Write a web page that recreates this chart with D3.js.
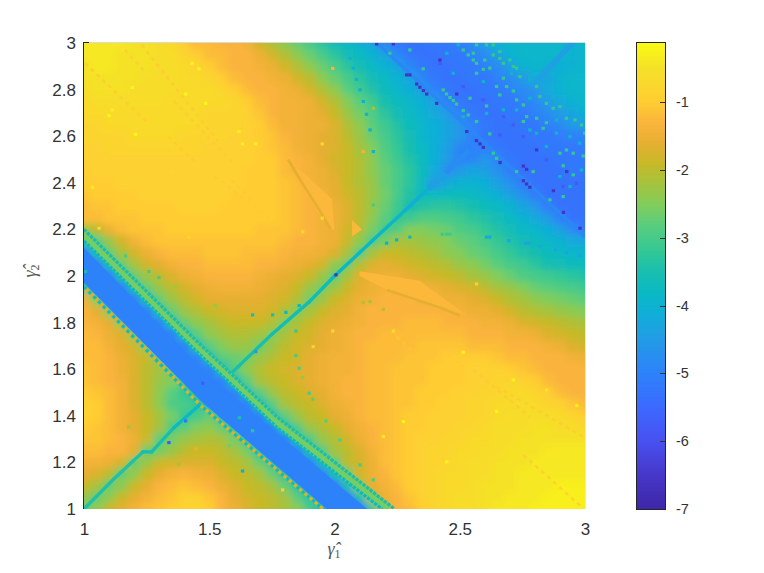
<!DOCTYPE html>
<html><head><meta charset="utf-8">
<script src="https://cdn.jsdelivr.net/npm/d3@7"></script>
<style>html,body{margin:0;padding:0;background:#fff}svg{display:block}text{font-family:"Liberation Sans",Arial,sans-serif}</style>
</head><body><div id="c"></div>
<script>
// Log-scale surface. Rows run from y=3.00 down to y=1.00, columns from x=1.00 to x=3.00.
const xTicks=[1,1.5,2,2.5,3];
const yTicks=[1,1.2,1.4,1.6,1.8,2,2.2,2.4,2.6,2.8,3];
const barTicks=[-7,-6,-5,-4,-3,-2,-1];
const zMin=-7, zMax=-0.13;
const stopValues=[-7,-6.5,-6,-5.5,-5,-4.5,-4.1,-3.8,-3.5,-3.2,-2.8,-2.5,-2.2,-1.9,-1.6,-1.3,-1,-0.5,-0.13];
const stopColors=["#3e26a8","#4637c8","#4850f0","#3c69ff","#2d82fa","#239be6","#0fafd7","#0ab9c3","#19beaf","#32c896","#5acd7d","#82cd5a","#a5c33c","#c8b928","#e6af32","#fab43c","#ffcd32","#f5e128","#fafa14"];
const zRows=[
[-.4,-.4,-.4,-.4,-.5,-.5,-.6,-.7,-1,-1.2,-1.2,-1.3,-1.3,-1.4,-1.8,-2.1,-2.4,-2.7,-3,-3.3,-3.6,-3.8,-4,-4.3,-4.9,-5.2,-5.3,-5.3,-5.2,-5.2,-5,-4.8,-4.4,-4,-3.9,-3.9,-3.9,-3.9,-3.9,-4,-3.9],
[-.4,-.4,-.4,-.5,-.5,-.5,-.6,-.6,-.8,-1,-1.2,-1.2,-1.3,-1.3,-1.5,-1.8,-2.1,-2.4,-2.7,-3,-3.3,-3.6,-3.8,-4,-4.3,-4.9,-5.2,-5.3,-5.3,-5.2,-5.2,-5,-4.8,-4.4,-4,-3.9,-3.9,-3.9,-3.9,-4,-3.9],
[-.5,-.4,-.4,-.5,-.5,-.5,-.6,-.6,-.7,-.8,-1,-1.2,-1.3,-1.3,-1.4,-1.5,-1.8,-2.1,-2.4,-2.7,-3,-3.3,-3.6,-3.8,-4,-4.3,-4.9,-5.2,-5.3,-5.3,-5.2,-5.2,-5,-4.8,-4.4,-4,-3.9,-4,-4.1,-4,-3.9],
[-.5,-.5,-.5,-.5,-.5,-.6,-.6,-.6,-.7,-.7,-.8,-1,-1.2,-1.3,-1.3,-1.4,-1.5,-1.8,-2,-2.4,-2.7,-3,-3.3,-3.6,-3.8,-4,-4.3,-4.9,-5.2,-5.3,-5.3,-5.2,-5.2,-5,-4.8,-4.5,-4.2,-4.3,-4,-3.9,-3.9],
[-.6,-.5,-.5,-.5,-.6,-.6,-.6,-.6,-.7,-.7,-.7,-.8,-1,-1.2,-1.3,-1.3,-1.4,-1.5,-1.8,-2.1,-2.4,-2.8,-3.1,-3.4,-3.7,-3.9,-4.1,-4.4,-5,-5.2,-5.3,-5.3,-5.2,-5.2,-5,-4.8,-4.6,-4.2,-4,-3.9,-3.9],
[-.7,-.6,-.6,-.6,-.6,-.6,-.6,-.7,-.7,-.7,-.7,-.7,-.8,-1,-1.2,-1.3,-1.4,-1.4,-1.5,-1.8,-2.1,-2.5,-2.8,-3.1,-3.5,-3.7,-3.9,-4.1,-4.4,-5,-5.2,-5.3,-5.3,-5.2,-5.2,-5,-4.8,-4.5,-4.2,-4,-3.9],
[-.7,-.7,-.7,-.7,-.7,-.7,-.7,-.7,-.7,-.7,-.8,-.8,-.8,-.9,-1.1,-1.3,-1.4,-1.4,-1.5,-1.6,-1.9,-2.3,-2.6,-2.9,-3.3,-3.6,-3.8,-4,-4.2,-4.5,-5,-5.2,-5.3,-5.3,-5.2,-5.2,-5,-4.8,-4.5,-4.3,-4.1],
[-.8,-.8,-.7,-.7,-.7,-.7,-.7,-.7,-.7,-.7,-.8,-.8,-.8,-.9,-1,-1.2,-1.4,-1.4,-1.5,-1.5,-1.7,-2.1,-2.4,-2.8,-3.1,-3.4,-3.7,-3.9,-4.1,-4.3,-4.6,-5,-5.2,-5.3,-5.3,-5.2,-5.2,-5,-4.8,-4.5,-4.5],
[-.8,-.8,-.8,-.8,-.7,-.7,-.7,-.7,-.8,-.8,-.8,-.8,-.9,-.9,-1,-1.1,-1.3,-1.4,-1.5,-1.6,-1.7,-2,-2.3,-2.7,-3,-3.3,-3.6,-3.9,-4.1,-4.3,-4.6,-5,-5.2,-5.3,-5.3,-5.3,-5.2,-5.2,-5.1,-5,-4.9],
[-.9,-.9,-.8,-.8,-.8,-.8,-.8,-.8,-.8,-.8,-.9,-.9,-.9,-.9,-1,-1.1,-1.2,-1.4,-1.5,-1.6,-1.7,-1.9,-2.2,-2.5,-2.9,-3.2,-3.5,-3.8,-4.1,-4.4,-4.9,-5,-5,-5.2,-5.3,-5.3,-5.3,-5.2,-5.2,-5.2,-5.1],
[-.9,-.9,-.9,-.9,-.9,-.9,-.9,-.9,-.9,-.9,-.9,-.9,-.9,-.9,-1,-1,-1.2,-1.3,-1.4,-1.6,-1.8,-1.9,-2.1,-2.4,-2.8,-3.1,-3.4,-3.7,-4.1,-4.5,-5,-4.9,-4.6,-4.9,-5.2,-5.3,-5.3,-5.3,-5.2,-5.2,-5.2],
[-1,-.9,-.9,-.9,-.9,-.9,-.9,-.9,-.9,-.9,-.9,-.9,-.9,-1,-1,-1,-1.2,-1.3,-1.4,-1.5,-1.7,-1.9,-2.1,-2.4,-2.7,-3,-3.3,-3.7,-4.2,-4.7,-4.5,-4.3,-4.4,-4.7,-5.1,-5.3,-5.3,-5.3,-5.3,-5.2,-5.2],
[-1,-1,-1,-.9,-.9,-.9,-.9,-.9,-.9,-.9,-.9,-.9,-.9,-1,-1,-1,-1.1,-1.2,-1.4,-1.5,-1.6,-1.9,-2.1,-2.3,-2.7,-3,-3.3,-3.8,-4.5,-4.2,-4,-4,-4.1,-4.4,-4.7,-5.1,-5.3,-5.3,-5.3,-5.3,-5.3],
[-1.1,-1,-1,-1,-1,-.9,-.9,-.9,-.9,-.9,-.9,-.9,-1,-1,-1,-1,-1.1,-1.2,-1.3,-1.4,-1.6,-1.8,-2,-2.3,-2.6,-3,-3.4,-3.7,-3.8,-3.7,-3.7,-3.8,-3.9,-4.1,-4.4,-4.7,-5.1,-5.3,-5.3,-5.3,-5.3],
[-1.2,-1.1,-1.1,-1,-1,-1,-1,-1,-.9,-.9,-.9,-1,-1,-1,-1,-1,-1.1,-1.2,-1.3,-1.4,-1.5,-1.7,-2,-2.3,-2.7,-3.1,-3.5,-3.4,-3.3,-3.3,-3.4,-3.5,-3.7,-3.8,-4,-4.3,-4.6,-5.1,-5.3,-5.3,-5.3],
[-1.2,-1.2,-1.1,-1.1,-1.1,-1,-1,-1,-1,-1,-1,-1,-1,-1,-1,-1,-1.1,-1.2,-1.3,-1.4,-1.5,-1.7,-2,-2.4,-2.8,-3.2,-3.1,-2.9,-2.9,-3,-3.1,-3.3,-3.4,-3.6,-3.8,-4,-4.2,-4.5,-5,-5.3,-5.3],
[-2.3,-2,-1.5,-1.2,-1.1,-1.1,-1.1,-1,-1,-1,-1,-1,-1,-1,-1.1,-1.1,-1.1,-1.2,-1.3,-1.4,-1.5,-1.8,-2.1,-2.6,-3,-2.9,-2.5,-2.5,-2.6,-2.7,-2.9,-3,-3.2,-3.4,-3.6,-3.8,-3.9,-4.1,-4.4,-4.8,-5.2],
[-3.2,-2.8,-2.3,-1.8,-1.4,-1.2,-1.1,-1.1,-1.1,-1.1,-1.1,-1.1,-1.1,-1.1,-1.1,-1.1,-1.2,-1.3,-1.3,-1.4,-1.5,-1.9,-2.4,-2.9,-2.6,-2.2,-2.2,-2.3,-2.4,-2.5,-2.7,-2.8,-3,-3.2,-3.4,-3.6,-3.7,-3.9,-4,-4.2,-4.3],
[-5,-3.6,-2.7,-2.2,-1.8,-1.5,-1.3,-1.2,-1.2,-1.2,-1.1,-1.1,-1.1,-1.2,-1.2,-1.2,-1.3,-1.4,-1.4,-1.5,-1.7,-2.2,-2.8,-2.2,-1.9,-1.9,-2,-2.1,-2.2,-2.4,-2.5,-2.7,-2.8,-3,-3.2,-3.4,-3.5,-3.7,-3.8,-3.9,-3.9],
[-5,-5,-3.6,-2.7,-2.2,-1.8,-1.6,-1.4,-1.3,-1.3,-1.2,-1.2,-1.2,-1.2,-1.3,-1.3,-1.4,-1.5,-1.6,-1.8,-2.4,-2.7,-2.1,-1.7,-1.6,-1.7,-1.8,-1.9,-2,-2.1,-2.3,-2.4,-2.6,-2.8,-3,-3.1,-3.3,-3.5,-3.6,-3.7,-3.7],
[-5,-5,-5,-3.6,-2.7,-2.3,-2,-1.7,-1.5,-1.4,-1.3,-1.3,-1.3,-1.3,-1.4,-1.5,-1.6,-1.7,-1.9,-2.3,-2.7,-2.2,-1.7,-1.5,-1.5,-1.5,-1.6,-1.7,-1.8,-1.9,-2,-2.2,-2.3,-2.5,-2.7,-2.9,-3,-3.1,-3.2,-3.3,-3.4],
[-3,-5,-5,-5,-3.6,-2.7,-2.3,-2,-1.8,-1.6,-1.5,-1.4,-1.4,-1.4,-1.5,-1.6,-1.7,-1.9,-2.3,-2.6,-2.3,-1.9,-1.6,-1.5,-1.4,-1.4,-1.4,-1.5,-1.5,-1.6,-1.7,-1.8,-2,-2.2,-2.3,-2.5,-2.7,-2.8,-2.9,-3,-3.1],
[-1.5,-2.5,-5,-5,-5,-3.6,-2.7,-2.3,-2,-1.8,-1.6,-1.6,-1.6,-1.6,-1.6,-1.7,-1.8,-2.1,-2.6,-2.3,-1.9,-1.7,-1.5,-1.4,-1.3,-1.3,-1.3,-1.4,-1.4,-1.5,-1.5,-1.6,-1.7,-1.9,-2.1,-2.2,-2.4,-2.5,-2.6,-2.7,-2.8],
[-1.3,-1.6,-2.5,-5,-5,-5,-3.6,-2.7,-2.3,-2.1,-1.9,-1.8,-1.7,-1.7,-1.7,-1.8,-2.1,-2.5,-2.2,-1.9,-1.7,-1.6,-1.4,-1.3,-1.3,-1.3,-1.3,-1.3,-1.3,-1.3,-1.4,-1.5,-1.5,-1.6,-1.8,-2,-2.1,-2.2,-2.3,-2.4,-2.5],
[-1.3,-1.4,-1.6,-2.5,-5,-5,-5,-3.6,-2.7,-2.4,-2.2,-2,-1.9,-1.9,-1.9,-2.1,-2.5,-2.2,-1.9,-1.7,-1.6,-1.5,-1.4,-1.3,-1.3,-1.3,-1.2,-1.2,-1.2,-1.3,-1.3,-1.3,-1.4,-1.4,-1.5,-1.7,-1.8,-1.9,-2,-2.1,-2.2],
[-1.2,-1.3,-1.5,-1.7,-2.5,-5,-5,-5,-3.6,-2.8,-2.4,-2.2,-2.1,-2.1,-2.2,-2.5,-2.2,-1.9,-1.8,-1.6,-1.5,-1.4,-1.3,-1.3,-1.2,-1.2,-1.2,-1.2,-1.2,-1.2,-1.2,-1.3,-1.3,-1.3,-1.4,-1.4,-1.5,-1.7,-1.8,-1.9,-2],
[-1.2,-1.2,-1.4,-1.6,-1.8,-2.6,-5,-5,-5,-3.6,-2.8,-2.5,-2.3,-2.3,-2.6,-2.3,-2,-1.8,-1.7,-1.6,-1.5,-1.4,-1.3,-1.2,-1.2,-1.2,-1.2,-1.1,-1.1,-1.1,-1.1,-1.2,-1.2,-1.2,-1.3,-1.3,-1.3,-1.4,-1.5,-1.7,-1.8],
[-1.2,-1.2,-1.3,-1.5,-1.7,-1.9,-2.7,-5,-5,-5,-3.6,-2.8,-2.7,-2.6,-2.3,-2.1,-1.9,-1.8,-1.6,-1.5,-1.4,-1.4,-1.3,-1.2,-1.2,-1.2,-1.1,-1.1,-1.1,-1,-1,-1,-1,-1.1,-1.2,-1.2,-1.3,-1.3,-1.3,-1.4,-1.5],
[-1.1,-1.2,-1.3,-1.5,-1.7,-2,-2.2,-2.8,-5,-5,-5,-3.6,-2.8,-2.4,-2.1,-1.9,-1.8,-1.7,-1.6,-1.5,-1.4,-1.4,-1.3,-1.2,-1.2,-1.1,-1.1,-1.1,-1,-1,-1,-.9,-.9,-.9,-1,-1.1,-1.2,-1.3,-1.3,-1.3,-1.3],
[-1.1,-1.2,-1.3,-1.4,-1.7,-2,-2.3,-2.5,-3,-5,-5,-5,-3.6,-2.8,-2.2,-2,-1.9,-1.7,-1.6,-1.5,-1.4,-1.3,-1.3,-1.2,-1.2,-1.1,-1.1,-1.1,-1,-1,-1,-.9,-.9,-.8,-.8,-.9,-1,-1.2,-1.3,-1.3,-1.3],
[-1,-1.1,-1.2,-1.4,-1.7,-2,-2.4,-2.8,-3.2,-3.3,-5,-5,-5,-3.6,-2.8,-2.3,-2,-1.9,-1.7,-1.6,-1.4,-1.3,-1.3,-1.2,-1.2,-1.1,-1.1,-1,-1,-1,-.9,-.9,-.8,-.8,-.7,-.7,-.8,-1,-1.2,-1.3,-1.3],
[-.9,-1,-1.2,-1.4,-1.7,-2,-2.4,-2.9,-3,-3.2,-3.8,-5,-5,-5,-3.6,-2.8,-2.2,-2,-1.9,-1.7,-1.5,-1.4,-1.3,-1.2,-1.2,-1.1,-1.1,-1,-1,-.9,-.9,-.8,-.8,-.7,-.7,-.6,-.7,-.8,-.9,-1.1,-1.2],
[-.9,-1,-1.2,-1.4,-1.6,-1.9,-2.2,-2.6,-3.1,-3,-2.7,-3.6,-5,-5,-5,-3.6,-2.8,-2.3,-2,-1.9,-1.6,-1.5,-1.3,-1.2,-1.2,-1.1,-1,-1,-.9,-.9,-.9,-.8,-.8,-.7,-.6,-.6,-.6,-.6,-.7,-.8,-1],
[-1,-1.1,-1.2,-1.4,-1.6,-1.9,-2.2,-2.9,-2.8,-2.5,-2.4,-2.7,-3.3,-5,-5,-5,-3.6,-2.9,-2.3,-2.1,-1.9,-1.6,-1.4,-1.3,-1.2,-1.1,-1,-1,-.9,-.9,-.8,-.8,-.7,-.6,-.6,-.6,-.5,-.5,-.6,-.6,-.7],
[-1.1,-1.1,-1.2,-1.3,-1.5,-1.9,-2.8,-2.6,-2.3,-2.2,-2.1,-2.2,-2.6,-3.3,-5,-5,-5,-3.6,-2.9,-2.3,-2.1,-1.8,-1.5,-1.3,-1.2,-1.1,-1,-.9,-.9,-.8,-.8,-.7,-.7,-.6,-.6,-.5,-.5,-.5,-.5,-.5,-.5],
[-1.2,-1.2,-1.3,-1.3,-1.6,-2.7,-2.6,-2.3,-2,-1.9,-1.9,-2,-2.2,-2.6,-3.3,-5,-5,-5,-3.6,-2.9,-2.2,-2,-1.7,-1.4,-1.2,-1.1,-1,-.9,-.8,-.8,-.7,-.7,-.6,-.6,-.5,-.5,-.5,-.4,-.4,-.4,-.4],
[-1.4,-1.4,-1.5,-1.8,-2.7,-2.3,-1.9,-1.8,-1.7,-1.7,-1.7,-1.9,-2,-2.2,-2.7,-3.3,-5,-5,-5,-3.6,-2.8,-2,-1.8,-1.5,-1.2,-1.1,-1,-.9,-.8,-.8,-.7,-.6,-.6,-.5,-.5,-.5,-.4,-.4,-.4,-.4,-.4],
[-1.6,-1.7,-2,-2.7,-2.4,-1.9,-1.6,-1.4,-1.3,-1.4,-1.5,-1.7,-1.9,-2,-2.2,-2.7,-3.3,-5,-5,-5,-3.6,-2.7,-1.8,-1.5,-1.3,-1.1,-1,-.9,-.8,-.7,-.7,-.6,-.6,-.5,-.5,-.4,-.4,-.4,-.4,-.4,-.4],
[-1.9,-2.2,-2.7,-2.4,-1.9,-1.6,-1.3,-1.2,-1.1,-1.2,-1.3,-1.5,-1.7,-1.9,-2,-2.2,-2.7,-3.3,-5,-5,-5,-3.6,-2.4,-1.6,-1.4,-1.2,-1,-.9,-.8,-.7,-.7,-.6,-.5,-.5,-.5,-.4,-.4,-.4,-.3,-.3,-.3],
[-2.3,-2.7,-2.4,-1.9,-1.6,-1.4,-1.2,-1.1,-.9,-.9,-1.1,-1.3,-1.6,-1.8,-1.9,-2,-2.2,-2.8,-3.3,-5,-5,-5,-3.5,-2,-1.5,-1.3,-1.1,-.9,-.8,-.7,-.6,-.6,-.5,-.5,-.4,-.4,-.4,-.3,-.3,-.3,-.3],
[-2.8,-2.4,-1.9,-1.6,-1.4,-1.2,-1.1,-1,-.9,-.8,-1,-1.3,-1.5,-1.7,-1.9,-2,-2.2,-2.4,-3,-3.5,-5,-5,-5,-3.2,-1.8,-1.3,-1.2,-1,-.8,-.7,-.6,-.6,-.5,-.4,-.4,-.4,-.3,-.3,-.3,-.3,-.3]
];
// Thin features that are finer than the grid above, in axis units.
const bandOutline=[[1,2.12],[1.5,1.57],[2.13,1],[1.97,1],[1.47,1.46],[1,1.97]];
const bandValue=-5.0;
const bandLines=[
 {v:-2.6,w:9,dash:null,pts:[[1,2.175],[1.45,1.697],[1.77,1.373],[2.215,1]]},
 {v:-3.5,w:3.2,dash:"3.3 1.2",pts:[[1,2.2],[1.45,1.72],[1.77,1.395],[2.24,1]]},
 {v:-3.8,w:3.2,dash:"3.3 1.2",pts:[[1,2.15],[1.45,1.675],[1.77,1.35],[2.19,1]]},
 {v:-1.75,w:3.4,dash:null,pts:[[1,1.955],[1.47,1.44],[1.955,1]]},
 {v:-3.6,w:3.4,dash:"3.4 3.4",pts:[[1,1.955],[1.47,1.44],[1.955,1]]}
];
const ridgePoints=[[1,1,-3.4],[1.12,1.13,-3.4],[1.235,1.245,-3.6],[1.27,1.245,-3.5],[1.36,1.35,-3.8],[1.46,1.445,-4.4]];
const ridgePointsUpper=[[1.595,1.59,-3.5],[1.75,1.75,-3.6],[1.9,1.89,-3.7],[2,2,-3.9],[2.15,2.15,-3.9],[2.28,2.28,-4.1],[2.38,2.38,-4.4],[2.45,2.45,-4.8],[2.53,2.53,-5.1]];
const ridgePointsCorner=[[2.81,2.84,-4.4],[2.88,2.92,-4.4],[2.95,3,-4.3]];
const edgeLine=[[2.17,3],[2.4,2.77],[2.6,2.57],[2.8,2.37],[3,2.17]];
const edgeValue=-4.9;
const wedges=[
 {v:-1.25,pts:[[1.815,2.505],[1.9,2.42],[1.99,2.33],[2,2.2],[1.98,2.2],[1.9,2.33],[1.84,2.43]]},
 {v:-1.25,pts:[[2.07,2.24],[2.11,2.2],[2.07,2.17]]},
 {v:-1.25,pts:[[2.1,2.02],[2.34,1.98],[2.53,1.83],[2.42,1.87],[2.21,1.94],[2.1,2]]}
];
const wedgeEdges=[
 {v:-1.6,pts:[[1.815,2.5],[1.87,2.4],[1.93,2.3],[1.985,2.2]]},
 {v:-1.6,pts:[[2.21,1.94],[2.42,1.865],[2.5,1.83]]}
];
const faintLines=[
 [1.004,2.913,1.257,2.655],[1.23,2.992,1.536,2.577],[1.336,2.598,1.45,2.484],[1.523,2.427,1.769,2.226],
 [1.589,2.412,1.682,2.312],[1.163,2.97,1.237,2.884],[1.36,2.75,1.6,2.48],[2.248,1.74,2.308,1.683],
 [2.408,1.704,2.514,1.611],[2.554,1.597,2.78,1.396],[2.647,1.525,2.993,1.311],[2.754,1.232,2.993,1.003]
];
const faintValue=-1.05;
const darkSpecks=[[2.168,2.996],[2.235,2.996],[2.288,2.863],[2.301,2.863],[2.328,2.824],[2.341,2.81],[2.355,2.796],[2.368,2.781],[2.408,2.741],[2.488,2.781],[2.421,2.927],[2.528,2.62],[2.567,2.581],[2.581,2.567],[2.594,2.552],[2.661,2.487],[2.754,2.472],[2.767,2.458],[2.754,2.409],[2.767,2.395],[2.78,2.381],[2.874,2.366],[2.914,2.273],[2.98,2.205],[2.807,2.541],[2.927,2.448],[2.006,2.005]];
const darkValue=-6.6;
const greenSpecks=[[2.514,2.97],[2.534,2.949],[2.567,2.992],[2.607,2.992],[2.634,2.992],[2.554,2.956],[2.634,2.949],[2.66,2.963],[2.554,2.927],[2.567,2.913],[2.6,2.927],[2.66,2.934],[2.674,2.913],[2.7,2.927],[2.714,2.899],[2.727,2.892],[2.74,2.856],[2.674,2.849],[2.567,2.87],[2.594,2.887],[2.62,2.892],[2.807,2.813],[2.82,2.77],[2.846,2.741],[2.873,2.72],[2.9,2.727],[2.926,2.677],[2.96,2.67],[2.986,2.648],[2.999,2.613],[2.833,2.634],[2.846,2.658],[2.767,2.684],[2.807,2.677],[2.754,2.663],[2.62,2.61],[2.634,2.527],[2.647,2.505],[2.727,2.448],[2.793,2.448],[2.86,2.327],[2.913,2.341],[2.953,2.434],[2.913,2.473],[2.926,2.541],[2.953,2.527],[2.993,2.515],[2.9,2.527],[2.567,2.663],[2.434,2.799],[2.447,2.781],[2.461,2.766],[2.474,2.753],[2.487,2.738],[2.514,2.71],[2.534,2.691],[2.647,2.813],[2.687,2.813],[2.714,2.794],[2.66,2.777],[2.727,2.756],[2.754,2.734],[2.607,2.73],[2.541,2.763],[2.354,2.889],[2.301,2.97],[2.221,2.956]];
const greenValue=-3.2;
const tealSpecks=[[2.494,2.992],[2.448,2.956],[2.474,2.87],[2.594,2.834],[2.78,2.841],[2.727,2.713],[2.78,2.627],[2.886,2.613],[2.94,2.598],[2.807,2.613],[2.674,2.713],[2.607,2.698],[2.9,2.427],[2.94,2.384],[2.846,2.556],[2.78,2.763],[2.886,2.67],[2.979,2.57],[2.986,2.455],[2.793,2.87],[2.873,2.77],[2.514,2.684],[2.707,2.87]];
const tealValue=-3.9;
const violetSpecks=[[2.421,2.913],[2.514,2.813],[2.594,2.756],[2.674,2.684],[2.714,2.648],[2.754,2.598],[2.846,2.498],[2.966,2.398],[2.913,2.384],[2.66,2.606]];
const violetValue=-5.8;
const otherSpecks=[
 [2.062,2.934,-4],[2.075,2.892,-4],[2.088,2.844,-4],[2.102,2.799,-4],[2.115,2.749,-4],[2.128,2.694,-4],[2.142,2.627,-4],[2.155,2.534,-4],
 [2.155,2.72,-2.2],[2.155,2.305,-3],[2.115,2.535,-1.4],[1.993,2.891,-1.3],
 [2.208,2.141,-4],[2.248,2.155,-4],[2.301,2.167,-3.7],[2.607,2.167,-4.2],[2.62,2.167,-4.2],[2.696,2.152,-4.2],[2.763,2.141,-4.3],[2.776,2.141,-4.3],[2.82,2.126,-4.2],[2.882,2.112,-4.3],[2.926,2.101,-4.3],[2.98,2.088,-4.3],[2.43,2.179,-3.1],[2.447,2.179,-3.1],[2.46,2.179,-3.1],
 [1.432,2.913,-.2],[1.459,2.889,-.2],[1.406,2.781,-.2],[1.486,2.741,-.2],[1.193,2.809,-.2],[1.1,2.688,-.2],[1.113,2.713,-.3],[1.206,2.608,-.2],[1.619,2.62,-.3],[1.632,2.567,-.3],[1.685,2.567,-.3],[1.033,2.381,-.3],[1.06,2.205,-.7],[1.951,2.248,-.7],[1.951,2.567,-.8],[1.873,2.19,-.8],[1.419,2.166,-.8],[1.35,2.448,-.8],
 [1.166,2.086,-3],[1.259,2.019,-3],[1.299,1.993,-3],[1.006,2.019,-3.5],[1.366,1.954,-2.2],[1.525,1.873,-2.3],[1.673,1.833,-3.5],[1.753,1.833,-3.5],[1.806,1.844,-3.8],[1.859,1.873,-3.8],[1.846,1.764,-3.2],[1.915,1.697,-1],[1.846,1.658,-3],[1.859,1.604,-2.9],[1.873,1.564,-2.3],[1.899,1.497,-3],[1.913,1.471,-2.8],[1.966,1.378,-2.8],[1.62,1.392,-3.5],[1.673,1.336,-3.3],[1.58,1.272,-2.6],[1.633,1.163,-4.2],[1.793,1.082,-1],[1.339,1.285,-5.8],[1.474,1.54,-5.8],[1.406,1.378,-5.3],[1.686,1.675,-4.5],[1.179,1.351,-2.2],[1.446,1.258,-1.5],[1.379,1.243,-2.2],[1.379,1.192,-2.2],
 [2.022,1.296,-2.9],[2.102,1.189,-3],[2.155,1.125,-2.9],[2.275,1.375,-.2],[2.195,1.311,-.4],[2.448,1.203,-.2],[2.514,1.673,-.2],[2.235,1.764,-.6],[1.993,1.764,-.8],[2.567,1.966,-1],[2.714,1.554,-.3],[2.647,1.418,-.2],[2.847,1.511,-.4],[2.967,1.444,-.3],[2.142,1.89,-2.2],[2.115,1.886,-2],[2.195,1.857,-2],[1.995,1.336,-2]
];

const W=764,H=573;
const L=84,R=585,T=43,B=509,CL=637,CR=665;
const xs=d3.range(41).map(i=>1+i*0.05), ys=d3.range(41).map(i=>3-i*0.05);
const x=d3.scaleLinear().domain([1,3]).range([L,R]);
const y=d3.scaleLinear().domain([1,3]).range([B,T]);
const cy=d3.scaleLinear().domain([zMin,zMax]).range([B,T]);
const color=d3.scaleLinear().domain(stopValues).range(stopColors).interpolate(d3.interpolateRgb).clamp(true);
const svg=d3.select("#c").append("svg").attr("width",W).attr("height",H);
const defs=svg.append("defs");
defs.append("clipPath").attr("id","plot").append("rect").attr("x",L).attr("y",T).attr("width",R-L).attr("height",B-T);
const f=defs.append("filter").attr("id","soft").attr("filterUnits","userSpaceOnUse").attr("x",0).attr("y",0).attr("width",W).attr("height",H);
f.append("feGaussianBlur").attr("stdDeviation",3.6);

const plot=svg.append("g").attr("clip-path","url(#plot)");
const base=plot.append("g").attr("filter","url(#soft)");
const hx=(x(1.05)-x(1))/2, hy=(y(1)-y(1.05))/2, pad=30;
zRows.forEach((row,r)=>{
  base.selectAll(null).data(row).enter().append("rect")
   .attr("x",(d,i)=>x(xs[i])-hx-(i==0?pad:0))
   .attr("width",(d,i)=>2*hx+0.5+((i==0||i==row.length-1)?pad:0))
   .attr("y",y(ys[r])-hy-(r==0?pad:0))
   .attr("height",2*hy+0.5+((r==0||r==zRows.length-1)?pad:0))
   .attr("fill",d=>color(d)).attr("shape-rendering","crispEdges");
});
const path=d3.line().x(d=>x(d[0])).y(d=>y(d[1]));
plot.selectAll(null).data(faintLines).enter().append("line")
 .attr("x1",d=>x(d[0])).attr("y1",d=>y(d[1])).attr("x2",d=>x(d[2])).attr("y2",d=>y(d[3]))
 .attr("stroke",color(faintValue)).attr("stroke-width",2.6).attr("stroke-dasharray","4 4").attr("opacity",.65);
plot.selectAll(null).data(wedges).enter().append("path").attr("d",d=>path(d.pts)+"Z").attr("fill",d=>color(d.v));
plot.selectAll(null).data(wedgeEdges).enter().append("path").attr("d",d=>path(d.pts)).attr("fill","none").attr("stroke",d=>color(d.v)).attr("stroke-width",2.6);
plot.selectAll(null).data(bandLines).enter().append("path").attr("d",d=>path(d.pts)).attr("fill","none")
 .attr("stroke",d=>color(d.v)).attr("stroke-width",d=>d.w).attr("stroke-dasharray",d=>d.dash);
plot.append("path").attr("d",path(bandOutline)+"Z").attr("fill",color(bandValue));
plot.append("path").attr("d",path(edgeLine)).attr("fill","none").attr("stroke",color(edgeValue)).attr("stroke-width",3.4);
[ridgePoints,ridgePointsUpper,ridgePointsCorner].forEach(s=>{
  plot.selectAll(null).data(d3.pairs(s)).enter().append("line")
   .attr("x1",d=>x(d[0][0])).attr("y1",d=>y(d[0][1])).attr("x2",d=>x(d[1][0])).attr("y2",d=>y(d[1][1]))
   .attr("stroke",d=>color(d[0][2])).attr("stroke-width",d=>d[0][2]<-4.3?5.5:3.4).attr("stroke-linecap","round");
});
const cw=(R-L)/150, ch=(B-T)/150;
function specks(data,val){
  plot.selectAll(null).data(data).enter().append("rect")
   .attr("x",d=>x(d[0])-cw/2).attr("y",d=>y(d[1])-ch/2).attr("width",cw).attr("height",ch)
   .attr("fill",d=>color(val(d)));
}
specks(violetSpecks,()=>violetValue);
specks(tealSpecks,()=>tealValue);
specks(greenSpecks,()=>greenValue);
specks(darkSpecks,()=>darkValue);
specks(otherSpecks,d=>d[2]);

// frame
svg.append("line").attr("x1",L).attr("x2",R).attr("y1",T-.5).attr("y2",T-.5).attr("stroke","#d9d9d9");
svg.append("line").attr("x1",R+.5).attr("x2",R+.5).attr("y1",T).attr("y2",B).attr("stroke","#e6e6e6");
svg.append("line").attr("x1",L-.5).attr("x2",L-.5).attr("y1",T-1).attr("y2",B).attr("stroke","#262626");
svg.append("line").attr("x1",L).attr("x2",L+5).attr("y1",T-.5).attr("y2",T-.5).attr("stroke","#262626");

const xAxis=d3.axisBottom(x).tickValues(xTicks).tickFormat(d3.format("~g")).tickSize(0).tickPadding(14);
const gx=svg.append("g").attr("transform",`translate(0,${B})`).call(xAxis);
gx.select(".domain").remove();
gx.selectAll("text").attr("font-size",17).attr("fill","#333").style("font-family","Liberation Sans");
const yAxis=d3.axisLeft(y).tickValues(yTicks).tickFormat(d3.format("~g")).tickSize(0).tickPadding(8);
const gy=svg.append("g").attr("transform",`translate(${L},0)`).call(yAxis);
gy.select(".domain").remove();
gy.selectAll("text").attr("font-size",17).attr("fill","#333").style("font-family","Liberation Sans");

// colour bar
const barN=d3.range(zMin,zMax,0.02);
svg.append("g").selectAll("rect").data(barN).enter().append("rect").attr("shape-rendering","crispEdges")
 .attr("x",CL).attr("width",CR-CL).attr("y",d=>cy(d+0.02)).attr("height",d=>cy(d)-cy(d+0.02)+1).attr("fill",d=>color(d));
svg.append("rect").attr("x",CL-.5).attr("y",T-.5).attr("width",CR-CL+1).attr("height",B-T+1).attr("fill","none").attr("stroke","#262626");
const cAxis=d3.axisRight(cy).tickValues(barTicks).tickFormat(d=>"-"+Math.abs(d)).tickSize(0).tickPadding(11);
const gc=svg.append("g").attr("transform",`translate(${CR},0)`).call(cAxis);
gc.select(".domain").remove();
gc.selectAll("text").attr("font-size",14.5).attr("fill","#333").style("font-family","Liberation Sans");
svg.append("g").selectAll("line").data(barTicks.slice(1)).enter().append("line")
 .attr("x1",CR-5).attr("x2",CR).attr("y1",d=>Math.round(cy(d))+.5).attr("y2",d=>Math.round(cy(d))+.5).attr("stroke","#333");

// axis titles
function title(sel,sub){
  sel.attr("font-size",18).attr("fill","#555").style("font-family","Liberation Serif");
  sel.append("tspan").attr("font-style","italic").text("\u03B3\u0302");
  sel.append("tspan").attr("font-size",12).attr("dy",3).text(sub);
}
title(svg.append("text").attr("x",334).attr("y",555).attr("text-anchor","middle"),"1");
title(svg.append("text").attr("text-anchor","middle").attr("transform","translate(36,271) rotate(-90)"),"2");
</script></body></html>
